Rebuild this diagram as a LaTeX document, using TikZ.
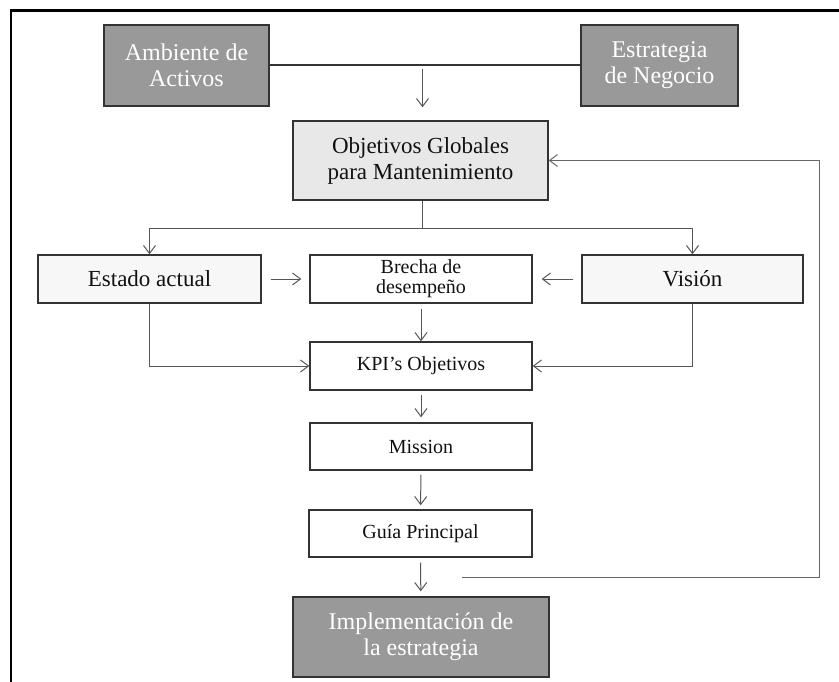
\documentclass[tikz,border=0pt]{standalone}
\usepackage{fontspec}
\setmainfont{Liberation Serif}
\usetikzlibrary{arrows.meta,calc}
\definecolor{darkfill}{HTML}{999999}
\definecolor{lightfill}{HTML}{E8E8E8}
\definecolor{palefill}{HTML}{F7F7F7}
\definecolor{boxline}{HTML}{333333}
\definecolor{connc}{HTML}{555555}
\definecolor{fbc}{HTML}{666666}
\definecolor{textc}{HTML}{111111}
\begin{document}
\begin{tikzpicture}[x=1pt,y=-1pt,
  box/.style={draw=boxline, line width=1.4pt, inner sep=2pt, align=center, text=textc},
  big/.style={font=\fontsize{23}{26}\selectfont},
  small/.style={font=\fontsize{20}{20}\selectfont},
  dark/.style={box, big, fill=darkfill, text=white, font=\fontsize{24}{26}\selectfont},
  tip/.tip={Straight Barb[length=8pt,width=12pt,line width=1pt]},
  conn/.style={draw=connc, line width=1pt},
  arr/.style={conn, -tip},
]
\useasboundingbox (0,0) rectangle (839,682);
\fill[white] (0,0) rectangle (839,682);

% outer frame (left and top edges)
\draw[line width=2.5pt, black] (11,682) -- (11,10.5) -- (839,10.5);

% boxes
\node[dark, minimum width=165, minimum height=81] (amb) at (186.5,65.5) {Ambiente de\\Activos};
\node[dark, minimum width=157, minimum height=81] (neg) at (659.5,65.5) {Estrategia\\de Negocio};
\node[box, big, fill=lightfill, minimum width=255, minimum height=79] (obj) at (420.5,160.5) {Objetivos Globales\\para Mantenimiento};
\node[box, big, fill=palefill, minimum width=223, minimum height=48] (estado) at (149.5,279) {Estado actual};
\node[box, small, fill=white, minimum width=222, minimum height=48] (bre) at (421,279) {Brecha de\\desempeño};
\node[box, big, fill=palefill, minimum width=221, minimum height=48] (vis) at (692.5,279) {Visión};
\node[box, small, fill=white, minimum width=222, minimum height=48] (kpi) at (421,366) {KPI’s Objetivos};
\node[box, small, fill=white, minimum width=222, minimum height=47] (mis) at (421,446.5) {Mission};
\node[box, small, fill=white, minimum width=223, minimum height=47] (gui) at (420.5,533.5) {Guía Principal};
\node[dark, minimum width=256, minimum height=80] (imp) at (421,637) {Implementación de\\la estrategia};

% top junction between the two input boxes
\draw[line width=2pt, draw=boxline] (amb.east) -- (neg.west);
\coordinate (top) at ($(obj.north |- amb.east)+(2,0)$);
\draw[arr, shorten <=4pt, shorten >=13pt] (top) -- (top |- obj.north);

% split below the global objectives
\coordinate (split) at ($(obj.south)+(1.5,28)$);
\draw[conn] (obj.south -| split) -- (split);
\draw[arr] (split) -| (estado.north);
\draw[arr] (split) -| (vis.north);

% gap analysis
\draw[arr, shorten <=9pt, shorten >=8pt] (estado) -- (bre);
\draw[arr, shorten <=8pt, shorten >=9pt] (vis) -- (bre);
\draw[arr] (estado.south) |- (kpi.west);
\draw[arr] (vis.south) |- (kpi.east);

% main chain
\draw[arr, shorten <=5pt] (bre) -- (kpi);
\draw[arr, shorten <=4pt, shorten >=5pt] (kpi) -- (mis);
\draw[arr, shorten <=4pt, shorten >=4pt] (mis) -- (gui);
\draw[arr, shorten <=5pt, shorten >=5pt] (gui) -- (imp);

% feedback loop back to the global objectives
\coordinate (fb) at (462,577);
\coordinate (fbcorner) at (819,577);
\draw[conn, draw=fbc, -tip] (fb) -- (fbcorner) |- (obj.east);
\end{tikzpicture}
\end{document}
